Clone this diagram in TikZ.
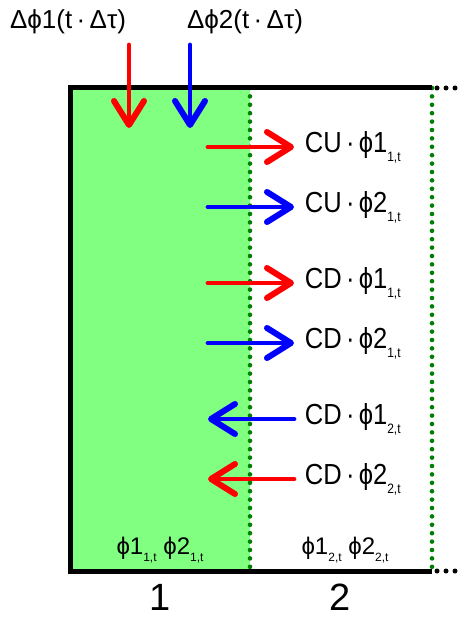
\documentclass[tikz,border=0pt]{standalone}
\usepackage{fontspec}
\setmainfont{Liberation Sans}
\usepackage{xcolor}
\usetikzlibrary{arrows.meta}
\definecolor{cellgreen}{RGB}{128,255,128}
\definecolor{wallgreen}{RGB}{0,128,0}
\newcommand{\lowidx}[1]{\raisebox{-0.6ex}{\fontsize{6.8}{6.8}\selectfont #1}}
\newcommand{\smallidx}[1]{\raisebox{-0.5ex}{\fontsize{6}{6}\selectfont #1}}
\tikzset{
  flux/.style={-{Straight Barb[length=12pt, width=15pt, line width=0.6pt 1, round]},
               line width=2.4pt, line cap=round},
  wall/.style={line width=2.5pt},
  interface/.style={wallgreen, line width=2.3pt, line cap=round, dash pattern=on 0pt off 4.2pt},
  more/.style={line width=2.5pt, line cap=round, dash pattern=on 0pt off 4.5pt},
  fluxlabel/.style={anchor=west, inner xsep=6pt, inner ysep=0pt, xscale=0.88,
                    font=\fontsize{14.5}{14.5}\selectfont},
  inlabel/.style={inner sep=0pt, font=\fontsize{13}{13}\selectfont},
  statelabel/.style={inner sep=0pt, font=\fontsize{12}{12}\selectfont},
  celllabel/.style={inner sep=0pt, font=\fontsize{19}{19}\selectfont}
}

\begin{document}
\begin{tikzpicture}[x=0.5pt, y=-0.5pt]
  \useasboundingbox (0,0) rectangle (459,619);
  % cell 1 filled, cell 2 empty
  \fill[cellgreen] (70,88) rectangle (250,571);
  \draw[interface] (250,88) -- (250,571);
  \draw[interface] (432,88) -- (432,571);
  \draw[wall] (432,88) -- (70,88) -- (70,571) -- (432,571);
  \draw[more] (437,88) -- (456,88);
  \draw[more] (437,571) -- (456,571);

  % inflow from above
  \node[inlabel] (in1) at (68,22)  {Δϕ1(t\,·\,Δτ)};
  \node[inlabel] (in2) at (245,22) {Δϕ2(t\,·\,Δτ)};
  \coordinate (s1) at (129,45);  \coordinate (e1) at (129,128);
  \coordinate (s2) at (190,45);  \coordinate (e2) at (190,128);
  \draw[flux, red]  (s1) -- (e1);
  \draw[flux, blue] (s2) -- (e2);

  % exchange across the interface
  \node[fluxlabel] (cu11) at (294,147) {CU\,·\,ϕ1\lowidx{1,t}};
  \node[fluxlabel] (cu21) at (294,207) {CU\,·\,ϕ2\lowidx{1,t}};
  \node[fluxlabel] (cd11) at (294,283) {CD\,·\,ϕ1\lowidx{1,t}};
  \node[fluxlabel] (cd21) at (294,343) {CD\,·\,ϕ2\lowidx{1,t}};
  \node[fluxlabel] (cd12) at (294,419) {CD\,·\,ϕ1\lowidx{2,t}};
  \node[fluxlabel] (cd22) at (294,479) {CD\,·\,ϕ2\lowidx{2,t}};
  \coordinate (a1) at (208,147);
  \coordinate (a2) at (208,207);
  \coordinate (a3) at (208,283);
  \coordinate (a4) at (208,343);
  \coordinate (a5) at (208,419);
  \coordinate (a6) at (208,479);
  \draw[flux, red]  (a1) -- (cu11.west);
  \draw[flux, blue] (a2) -- (cu21.west);
  \draw[flux, red]  (a3) -- (cd11.west);
  \draw[flux, blue] (a4) -- (cd21.west);
  \draw[flux, blue] (cd12.west) -- (a5);
  \draw[flux, red]  (cd22.west) -- (a6);

  % states and cell numbers
  \node[statelabel] (state1) at (160,550) {ϕ1\smallidx{1,t}\ ϕ2\smallidx{1,t}};
  \node[statelabel] (state2) at (345,550) {ϕ1\smallidx{2,t}\ ϕ2\smallidx{2,t}};
  \node[celllabel] (num1) at (160,597) {1};
  \node[celllabel] (num2) at (340,597) {2};
\end{tikzpicture}
\end{document}
